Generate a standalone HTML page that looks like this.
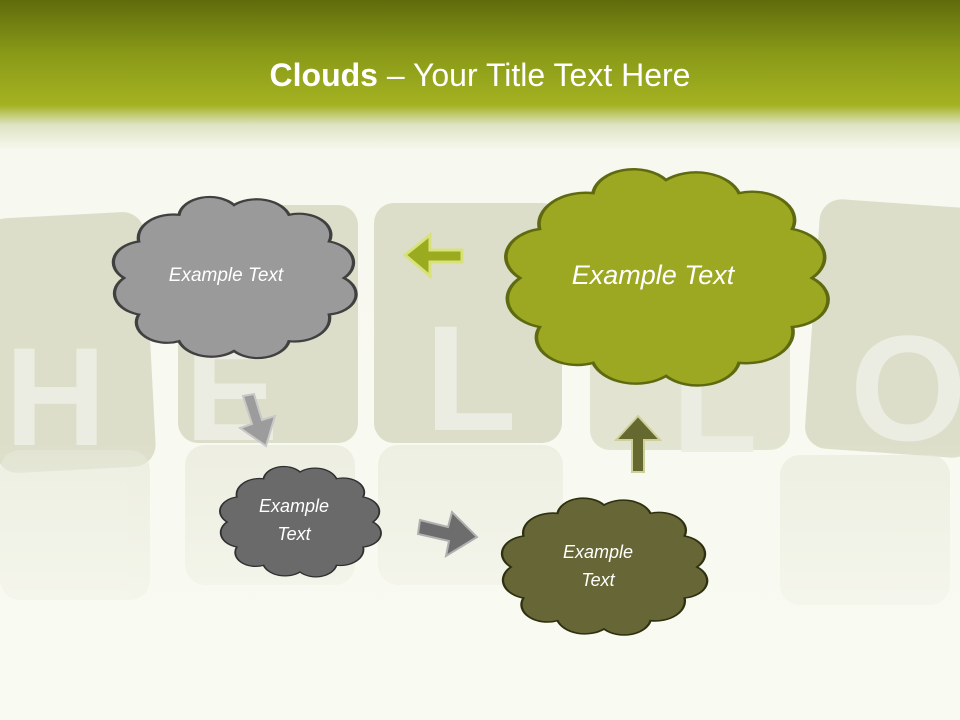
<!DOCTYPE html>
<html><head><meta charset="utf-8"><style>
html,body{margin:0;padding:0}
body{width:960px;height:720px;overflow:hidden;position:relative;font-family:"Liberation Sans",sans-serif;
background:linear-gradient(to bottom,#5f6c0c 0px,#8a9a18 55px,#a4b221 105px,#dfe4c4 125px,#f7f8ef 150px,#f9faf2 720px);}
.t{position:absolute;left:0;top:57px;width:960px;text-align:center;color:#fff;font-size:32px}
</style></head><body>
<svg width="960" height="720" style="position:absolute;left:0;top:0">
<defs>
<path id="cl" d="M100,0 A28,28 0 0 1 86.6,50 A32,32 0 0 1 50,86.6 A29,29 0 0 1 0,100 A31,31 0 0 1 -50,86.6 A28,28 0 0 1 -86.6,50 A30,30 0 0 1 -100,0 A29,29 0 0 1 -86.6,-50 A32,32 0 0 1 -50,-86.6 A28,28 0 0 1 0,-100 A31,31 0 0 1 50,-86.6 A29,29 0 0 1 86.6,-50 A30,30 0 0 1 100,0 Z"/>
<linearGradient id="fade" x1="0" y1="0" x2="0" y2="1"><stop offset="0" stop-color="#f9faf2" stop-opacity="0"/><stop offset="1" stop-color="#f9faf2" stop-opacity="1"/></linearGradient>
</defs>
<g fill="#dcdec9">
<rect x="-10" y="215" width="160" height="255" rx="22" transform="rotate(-3 70 340)"/>
<rect x="178" y="205" width="180" height="238" rx="20"/>
<rect x="374" y="203" width="188" height="240" rx="20"/>
<rect x="590" y="210" width="200" height="240" rx="20" opacity=".8"/>
<rect x="812" y="203" width="170" height="250" rx="22" transform="rotate(4 890 330)"/>
</g>
<g fill="#e6e8d8" opacity=".6">
<rect x="0" y="450" width="150" height="150" rx="20"/>
<rect x="185" y="445" width="170" height="140" rx="20"/>
<rect x="378" y="445" width="185" height="140" rx="20"/>
<rect x="780" y="455" width="170" height="150" rx="20"/>
</g>
<g fill="#ecede2" font-weight="bold" font-family="Liberation Sans,sans-serif">
<text x="5" y="445" font-size="140">H</text>
<text x="185" y="440" font-size="140">E</text>
<text x="425" y="430" font-size="150">L</text>
<text x="672" y="452" font-size="140">L</text>
<text x="850" y="440" font-size="150">O</text>
</g>
<rect x="0" y="440" width="960" height="280" fill="url(#fade)"/>
<path d="M462,250 L430,250 L430,235 L405,255 L430,276 L430,262 L462,262 Z" fill="#9aab1f" stroke="#d9e27a" stroke-width="3"/>
<path d="M243,396 L254,394 L262,420 L275,416 L266,446 L240,428 L252,424 Z" fill="#9c9c9c" stroke="#c8c8c8" stroke-width="2"/>
<path d="M420,520 L448,527 L452,512 L477,537 L446,556 L449,541 L418,534 Z" fill="#6d6d6d" stroke="#b0b0b0" stroke-width="2"/>
<path d="M632,472 L644,472 L644,440 L660,440 L638,416 L616,440 L632,440 Z" fill="#66692f" stroke="#cdd09a" stroke-width="2"/>
<use href="#cl" transform="translate(234,278) scale(1.10,0.73)" fill="#9a9a9a" stroke="#404040" stroke-width="3" style="vector-effect:non-scaling-stroke"/>
<use href="#cl" transform="translate(666,278) scale(1.46,0.98)" fill="#9ca822" stroke="#5f6a10" stroke-width="2.5" style="vector-effect:non-scaling-stroke"/>
<use href="#cl" transform="translate(300,522) scale(0.73,0.50)" fill="#6a6a6a" stroke="#303030" stroke-width="2.5" style="vector-effect:non-scaling-stroke"/>
<use href="#cl" transform="translate(604,567) scale(0.93,0.62)" fill="#666636" stroke="#2e3010" stroke-width="2.5" style="vector-effect:non-scaling-stroke"/>
<g fill="#fff" font-style="italic" font-family="Liberation Sans,sans-serif" text-anchor="middle">
<text x="226" y="281" font-size="19">Example Text</text>
<text x="653" y="284" font-size="27">Example Text</text>
<text x="294" y="512" font-size="18">Example</text>
<text x="294" y="540" font-size="18">Text</text>
<text x="598" y="558" font-size="18">Example</text>
<text x="598" y="586" font-size="18">Text</text>
</g>
</svg>
<div class="t"><b>Clouds</b> – Your Title Text Here</div>
</body></html>
